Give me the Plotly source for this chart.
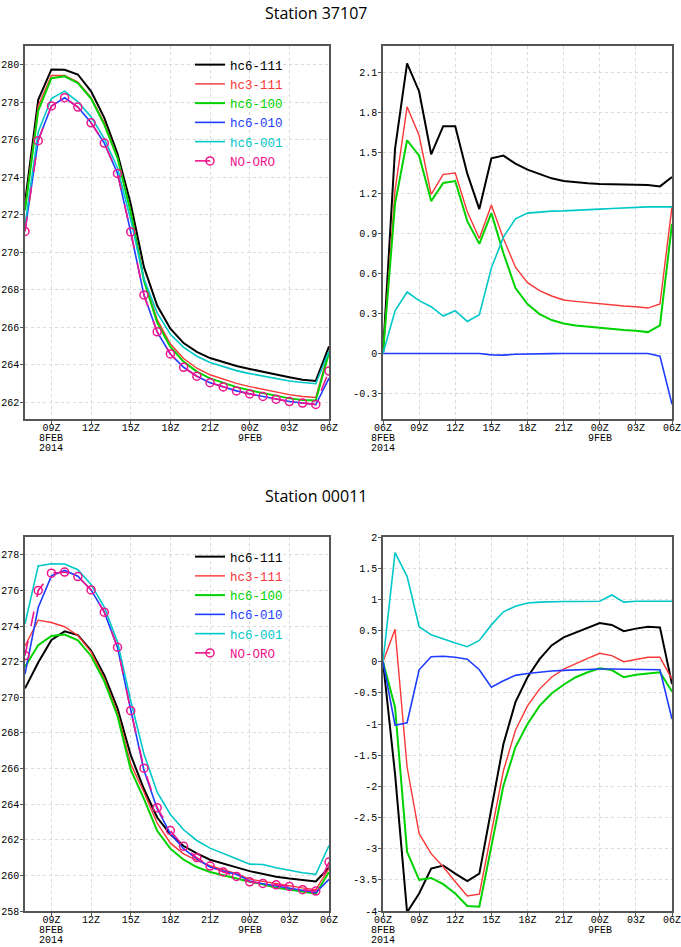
import plotly.graph_objects as go

# hours counted from 00Z 8 FEB 2014
hours_t = list(range(7, 31))   # temperature panels: 07Z 8FEB .. 06Z 9FEB
hours_d = list(range(6, 31))   # difference panels: 06Z 8FEB .. 06Z 9FEB

ticks_t = [9, 12, 15, 18, 21, 24, 27, 30]
ticklabels_t = ["09Z", "12Z", "15Z", "18Z", "21Z", "00Z", "03Z", "06Z"]
ticks_d = [6, 9, 12, 15, 18, 21, 24, 27, 30]
ticklabels_d = ["06Z", "09Z", "12Z", "15Z", "18Z", "21Z", "00Z", "03Z", "06Z"]
# extra date lines under some ticks: (hour, text, line number)
date_lines_t = [(9, "8FEB", 1), (9, "2014", 2), (24, "9FEB", 1)]
date_lines_d = [(6, "8FEB", 1), (6, "2014", 2), (24, "9FEB", 1)]

runs = ["hc6-111", "hc3-111", "hc6-100", "hc6-010", "hc6-001"]
colors = ["black", "rgb(250,55,55)", "rgb(0,210,0)", "rgb(30,60,255)", "rgb(0,200,200)"]
widths = [2, 1.4, 2, 1.6, 1.6]
noro_name = "NO-ORO"
noro_color = "rgb(240,20,140)"

# ---- Station 37107: temperature (K) ----
t1_hc6_111 = [272.65, 278.13, 279.75, 279.73, 279.48, 278.58, 277.17, 275.25, 272.57, 269.2, 267.15, 265.92,
              265.15, 264.68, 264.35, 264.12, 263.93, 263.77, 263.6, 263.47, 263.33, 263.2, 263.13, 264.97]
t1_hc3_111 = [272.35, 277.8, 279.43, 279.43, 279.08, 278.25, 276.9, 275.06, 272.19, 268.57, 266.4, 265.1,
              264.33, 263.81, 263.46, 263.21, 263.0, 262.83, 262.68, 262.54, 262.4, 262.3, 262.25, 264.76]
t1_hc6_100 = [272.23, 277.55, 279.28, 279.38, 279.02, 278.19, 276.81, 275.02, 272.13, 268.47, 266.24, 264.94,
              264.16, 263.63, 263.27, 263.02, 262.8, 262.63, 262.48, 262.34, 262.2, 262.11, 262.09, 264.63]
t1_hc6_010 = [271.15, 275.98, 277.8, 278.24, 277.74, 276.9, 275.82, 274.2, 271.07, 267.71, 265.74, 264.56,
              263.86, 263.38, 263.04, 262.81, 262.6, 262.44, 262.3, 262.16, 262.03, 261.95, 261.86, 263.28]
t1_hc6_001 = [271.43, 276.41, 278.2, 278.59, 278.02, 277.22, 276.06, 274.49, 271.72, 268.58, 266.76, 265.62,
              264.92, 264.45, 264.11, 263.88, 263.68, 263.52, 263.39, 263.25, 263.13, 263.05, 262.98, 264.72]
t1_noro = [271.11, 275.95, 277.8, 278.24, 277.74, 276.9, 275.82, 274.2, 271.08, 267.72, 265.75, 264.57,
           263.86, 263.38, 263.04, 262.81, 262.6, 262.44, 262.3, 262.16, 262.03, 261.95, 261.88, 263.66]

# ---- Station 37107: difference to NO-ORO ----
d1_hc6_111 = [0, 1.53, 2.17, 1.96, 1.49, 1.70, 1.70, 1.345, 1.08, 1.46, 1.48, 1.42, 1.375, 1.34, 1.31, 1.29,
              1.28, 1.273, 1.268, 1.265, 1.263, 1.262, 1.26, 1.25, 1.32]
d1_hc3_111 = [0, 1.22, 1.845, 1.63, 1.19, 1.34, 1.35, 1.06, 0.86, 1.11, 0.86, 0.645, 0.53, 0.47, 0.43, 0.40,
              0.39, 0.38, 0.37, 0.36, 0.355, 0.35, 0.34, 0.37, 1.10]
d1_hc6_100 = [0, 1.12, 1.595, 1.48, 1.14, 1.275, 1.29, 0.99, 0.82, 1.05, 0.75, 0.49, 0.37, 0.295, 0.25, 0.225,
              0.21, 0.20, 0.19, 0.18, 0.175, 0.17, 0.16, 0.21, 0.97]
d1_hc6_010 = [0, 0, 0, 0, 0, 0, 0, 0, 0, -0.01, -0.012, -0.006, -0.003, -0.002, -0.001, 0,
              0, 0, 0, 0, 0, 0, 0, -0.02, -0.38]
d1_hc6_001 = [0, 0.32, 0.46, 0.395, 0.35, 0.28, 0.32, 0.24, 0.29, 0.64, 0.87, 1.0075, 1.05, 1.06, 1.065, 1.067,
              1.07, 1.075, 1.08, 1.085, 1.09, 1.095, 1.097, 1.097, 1.097]

# ---- Station 00011: temperature (K) ----
t2_hc6_111 = [270.5, 271.95, 273.22, 273.7, 273.49, 272.63, 271.24, 269.38, 266.75, 264.85, 263.25, 262.3,
              261.65, 261.23, 260.88, 260.65, 260.45, 260.24, 260.07, 259.92, 259.82, 259.73, 259.66, 260.43]
t2_hc3_111 = [272.88, 274.33, 274.2, 273.96, 273.47, 272.55, 271.05, 269.12, 266.26, 264.67, 262.93, 261.81,
              261.21, 260.84, 260.54, 260.32, 260.1, 259.79, 259.68, 259.55, 259.42, 259.3, 259.2, 260.4]
t2_hc6_100 = [271.7, 272.93, 273.44, 273.52, 273.2, 272.32, 270.9, 268.95, 265.93, 264.3, 262.5, 261.5,
              260.88, 260.47, 260.19, 260.0, 259.82, 259.64, 259.5, 259.3, 259.2, 259.07, 258.97, 260.19]
t2_hc6_010 = [271.3, 275.04, 276.82, 277.12, 276.8, 276.03, 274.78, 272.8, 269.3, 265.9, 263.74, 262.34,
              261.5, 260.93, 260.47, 260.24, 260.06, 259.68, 259.53, 259.4, 259.29, 259.16, 259.03, 259.78]
t2_hc6_001 = [274.12, 277.38, 277.5, 277.48, 277.16, 276.33, 275.06, 273.1, 269.8, 266.82, 264.67, 263.42,
              262.56, 261.96, 261.53, 261.21, 260.93, 260.63, 260.61, 260.43, 260.28, 260.15, 260.06, 261.68]
t2_noro = [272.34, 276.0, 276.97, 277.03, 276.78, 276.03, 274.78, 272.81, 269.25, 266.02, 263.8, 262.52,
           261.63, 260.99, 260.52, 260.19, 259.94, 259.64, 259.55, 259.47, 259.38, 259.2, 259.12, 260.75]

# ---- Station 00011: difference to NO-ORO ----
d2_hc6_111 = [0, -1.8, -4.02, -3.72, -3.32, -3.27, -3.4, -3.52, -3.4, -2.36, -1.32, -0.65, -0.25, 0.04, 0.26, 0.39,
              0.47, 0.55, 0.62, 0.59, 0.49, 0.53, 0.56, 0.55, -0.36]
d2_hc3_111 = [0, 0.52, -1.69, -2.76, -3.08, -3.29, -3.53, -3.76, -3.73, -2.74, -1.75, -1.1, -0.71, -0.44, -0.25, -0.12,
              -0.03, 0.054, 0.134, 0.096, 0.0, 0.04, 0.07, 0.07, -0.28]
d2_hc6_100 = [0, -0.73, -3.05, -3.5, -3.47, -3.57, -3.72, -3.92, -3.93, -2.96, -1.99, -1.37, -1.0, -0.71, -0.51, -0.37,
              -0.25, -0.17, -0.107, -0.134, -0.25, -0.21, -0.19, -0.17, -0.48]
d2_hc6_010 = [0, -1.02, -0.98, -0.13, 0.08, 0.086, 0.07, 0.04, -0.13, -0.41, -0.305, -0.22, -0.19, -0.165, -0.15, -0.14,
              -0.13, -0.123, -0.118, -0.118, -0.118, -0.118, -0.118, -0.13, -0.92]
d2_hc6_001 = [0, 1.75, 1.37, 0.56, 0.43, 0.36, 0.30, 0.24, 0.34, 0.59, 0.80, 0.89, 0.94, 0.955, 0.965, 0.965,
              0.965, 0.965, 0.97, 1.07, 0.955, 0.97, 0.975, 0.97, 0.97]

t1_runs = [t1_hc6_111, t1_hc3_111, t1_hc6_100, t1_hc6_010, t1_hc6_001]
d1_runs = [d1_hc6_111, d1_hc3_111, d1_hc6_100, d1_hc6_010, d1_hc6_001]
t2_runs = [t2_hc6_111, t2_hc3_111, t2_hc6_100, t2_hc6_010, t2_hc6_001]
d2_runs = [d2_hc6_111, d2_hc3_111, d2_hc6_100, d2_hc6_010, d2_hc6_001]

W, H = 681, 947
fig = go.Figure()


def colored(name, color):
    return '<span style="color:%s">%s</span>' % (color, name)


# temperature panels with legend, difference panels without
for ax, legend, temps, noro in [("", "legend", t1_runs, t1_noro), ("3", "legend2", t2_runs, t2_noro)]:
    for name, col, lw, ys in zip(runs, colors, widths, temps):
        fig.add_trace(go.Scatter(x=hours_t, y=ys, mode="lines", name=colored(name, col),
                                 line=dict(color=col, width=lw), xaxis="x" + ax, yaxis="y" + ax,
                                 legend=legend))
    fig.add_trace(go.Scatter(x=hours_t, y=noro, mode="lines+markers", name=colored(noro_name, noro_color),
                             line=dict(color=noro_color, width=1.6, dash="longdash"),
                             marker=dict(symbol="circle-open", size=8, color=noro_color, line=dict(width=1.5)),
                             xaxis="x" + ax, yaxis="y" + ax, legend=legend))

for ax, diffs in [("2", d1_runs), ("4", d2_runs)]:
    for name, col, lw, ys in zip(runs, colors, widths, diffs):
        fig.add_trace(go.Scatter(x=hours_d, y=ys, mode="lines", line=dict(color=col, width=lw),
                                 xaxis="x" + ax, yaxis="y" + ax, showlegend=False))

tick_font = dict(family="Liberation Mono", size=10, color="black")
axis_style = dict(showline=True, mirror=True, linecolor="#555", linewidth=1.5,
                  ticks="outside", ticklen=3, tickcolor="#555", showgrid=True,
                  gridcolor="#dadada", griddash="dot", gridwidth=1, zeroline=False,
                  tickfont=tick_font, automargin=False)
x_style = dict(axis_style, ticklabelstandoff=-5, ticklabeloverflow="allow")
y_style = dict(axis_style, ticklabelstandoff=-1)

# plot areas in pixels (left, right, top, bottom)
left_px = (25, 329)
right_px = (383, 672)
top_px = (46, 419)
bot_px = (537, 911)


def xdom(p):
    return [p[0] / W, p[1] / W]


def ydom(p):
    return [1 - p[1] / H, 1 - p[0] / H]


# second and third lines of the date labels under the x axes
annotations = []
for xa, ya, lines in [("x", "y", date_lines_t), ("x2", "y2", date_lines_d),
                      ("x3", "y3", date_lines_t), ("x4", "y4", date_lines_d)]:
    for hour, text, n in lines:
        annotations.append(dict(text=text, x=hour, xref=xa, y=0, yref=ya + " domain",
                                xanchor="center", yanchor="middle", yshift=-9 - 10 * n,
                                showarrow=False, font=tick_font))

annotations += [
    dict(text="Station 37107", x=316 / W, y=1 - 13 / H, xref="paper", yref="paper",
         xanchor="center", yanchor="middle", showarrow=False,
         font=dict(family="Open Sans", size=16, color="black")),
    dict(text="Station 00011", x=316 / W, y=1 - 496 / H, xref="paper", yref="paper",
         xanchor="center", yanchor="middle", showarrow=False,
         font=dict(family="Open Sans", size=16, color="black")),
]

fig.update_layout(
    width=W, height=H,
    margin=dict(l=0, r=0, t=0, b=0),
    paper_bgcolor="white", plot_bgcolor="white",
    xaxis=dict(domain=xdom(left_px), anchor="y", range=[7, 30], tickvals=ticks_t, ticktext=ticklabels_t, **x_style),
    yaxis=dict(domain=ydom(top_px), anchor="x", range=[261.1, 281.0], dtick=2, **y_style),
    xaxis2=dict(domain=xdom(right_px), anchor="y2", range=[6, 30], tickvals=ticks_d, ticktext=ticklabels_d, **x_style),
    yaxis2=dict(domain=ydom(top_px), anchor="x2", range=[-0.49, 2.3],
                tickvals=[-0.3, 0, 0.3, 0.6, 0.9, 1.2, 1.5, 1.8, 2.1],
                ticktext=["-0.3", "0", "0.3", "0.6", "0.9", "1.2", "1.5", "1.8", "2.1"], **y_style),
    xaxis3=dict(domain=xdom(left_px), anchor="y3", range=[7, 30], tickvals=ticks_t, ticktext=ticklabels_t, **x_style),
    yaxis3=dict(domain=ydom(bot_px), anchor="x3", range=[258, 279], dtick=2, **y_style),
    xaxis4=dict(domain=xdom(right_px), anchor="y4", range=[6, 30], tickvals=ticks_d, ticktext=ticklabels_d, **x_style),
    yaxis4=dict(domain=ydom(bot_px), anchor="x4", range=[-4, 2],
                tickvals=[-4, -3.5, -3, -2.5, -2, -1.5, -1, -0.5, 0, 0.5, 1, 1.5, 2],
                ticktext=["-4", "-3.5", "-3", "-2.5", "-2", "-1.5", "-1", "-0.5", "0", "0.5", "1", "1.5", "2"],
                **y_style),
    legend=dict(x=190 / W, y=1 - 50 / H, xanchor="left", yanchor="top", bgcolor="rgba(0,0,0,0)",
                font=dict(family="Liberation Mono", size=12.5), itemwidth=30, tracegroupgap=0),
    legend2=dict(x=190 / W, y=1 - 542 / H, xanchor="left", yanchor="top", bgcolor="rgba(0,0,0,0)",
                 font=dict(family="Liberation Mono", size=12.5), itemwidth=30, tracegroupgap=0),
    showlegend=True,
    annotations=annotations,
)

# drop the default page margin so the figure fills the window exactly
fig.write_html("out.html", config={"displayModeBar": False},
               post_script="document.body.style.margin='0px';document.body.style.overflow='hidden';")
